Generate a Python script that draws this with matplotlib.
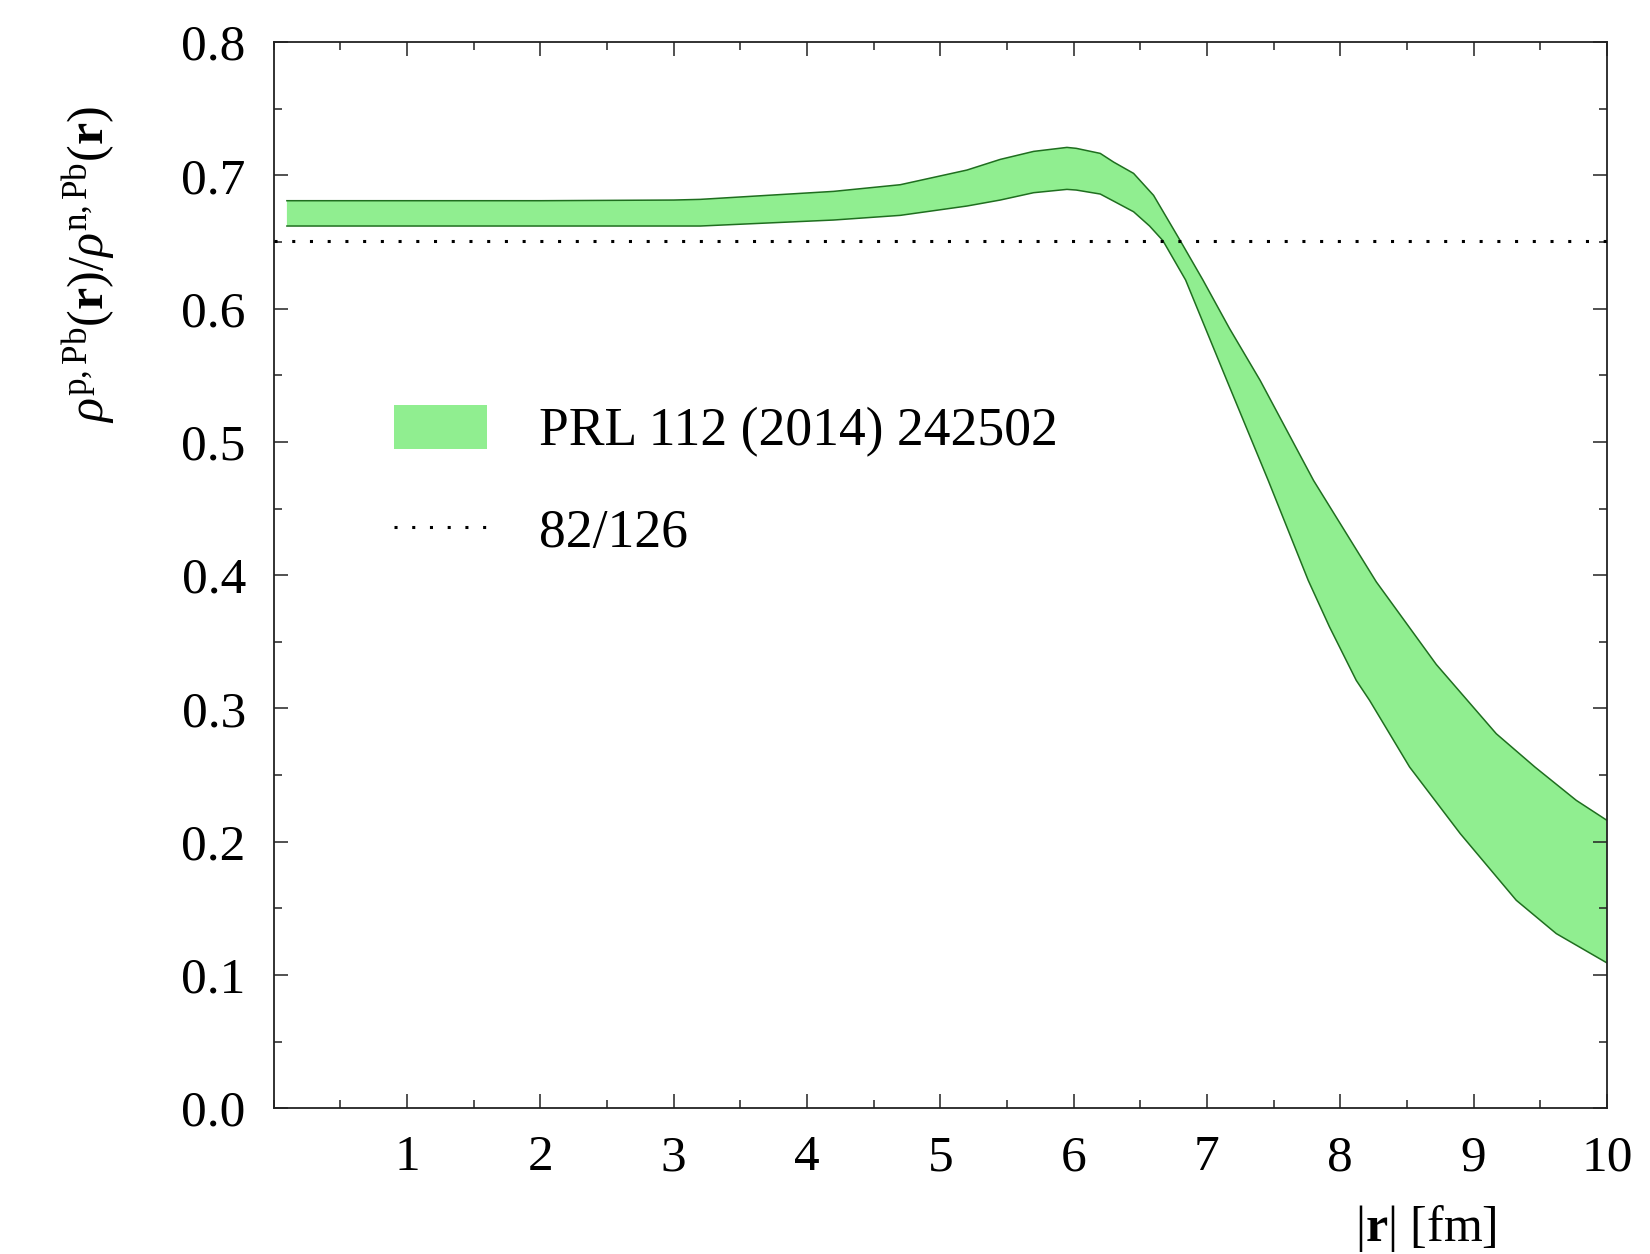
import numpy as np
import matplotlib
matplotlib.use("Agg")
import matplotlib.pyplot as plt
from matplotlib.patches import Patch
from matplotlib.lines import Line2D
from matplotlib.ticker import MultipleLocator, FormatStrFormatter

# ---- data ----
upper_r = [0.1, 1.0, 2.0, 3.0, 3.2, 4.2, 4.7, 5.2, 5.45, 5.7, 5.95, 6.02, 6.2, 6.3, 6.45,
           6.6, 6.8, 6.97, 7.17, 7.40, 7.80, 8.27, 8.72, 9.17, 9.46, 9.77, 10.0]
upper_ratio = [0.681, 0.681, 0.681, 0.6815, 0.682, 0.688, 0.693, 0.704, 0.712, 0.718, 0.721,
               0.7203, 0.7165, 0.710, 0.7015, 0.685, 0.651, 0.6215, 0.585, 0.546, 0.471,
               0.395, 0.333, 0.281, 0.256, 0.231, 0.216]
lower_r = [0.1, 1.0, 2.0, 3.0, 3.2, 4.2, 4.7, 5.2, 5.45, 5.7, 5.95, 6.02, 6.2, 6.3, 6.45,
           6.57, 6.67, 6.84, 7.15, 7.46, 7.76, 7.92, 8.12, 8.22, 8.52, 8.90, 9.32, 9.62,
           10.0]
lower_ratio = [0.662, 0.662, 0.662, 0.662, 0.662, 0.6665, 0.670, 0.677, 0.6815, 0.687, 0.6895,
               0.689, 0.686, 0.6807, 0.6727, 0.662, 0.651, 0.6215, 0.546, 0.471, 0.396,
               0.361, 0.321, 0.306, 0.256, 0.206, 0.156, 0.131, 0.109]
ref_ratio = 82 / 126
x_ticks = [1, 2, 3, 4, 5, 6, 7, 8, 9, 10]
y_ticks = [0.0, 0.1, 0.2, 0.3, 0.4, 0.5, 0.6, 0.7, 0.8]
band_label = "PRL 112 (2014) 242502"
ref_label = "82/126"

plt.rcParams.update({
    "font.family": ["Liberation Serif", "DejaVu Serif"],
    "mathtext.fontset": "custom",
    "mathtext.rm": "Liberation Serif",
    "mathtext.it": "Liberation Serif:italic",
    "mathtext.bf": "Liberation Serif:bold",
})

FILL = "#90ee90"
EDGE = "#1f6e1f"
DOT = (0, (1, 4.8))

fig = plt.figure(figsize=(16.5, 12.54), dpi=100)
ax = fig.add_axes([0.1658, 0.1163, 0.8081, 0.8501])

ur = np.array(upper_r); uy = np.array(upper_ratio)
lr = np.array(lower_r); ly = np.array(lower_ratio)
ax.fill(np.concatenate([ur, lr[::-1]]), np.concatenate([uy, ly[::-1]]),
        facecolor=FILL, edgecolor="none", zorder=1)
ax.plot(ur, uy, color=EDGE, lw=1.1, zorder=2, solid_joinstyle="round")
ax.plot(lr, ly, color=EDGE, lw=1.1, zorder=2, solid_joinstyle="round")
ax.axhline(ref_ratio, color="black", lw=2.2, ls=DOT, zorder=3)

ax.set_xlim(0, 10)
ax.set_ylim(0, 0.8)
ax.set_xticks(x_ticks)
ax.set_yticks(y_ticks)
ax.xaxis.set_minor_locator(MultipleLocator(0.5))
ax.yaxis.set_minor_locator(MultipleLocator(0.05))
ax.yaxis.set_major_formatter(FormatStrFormatter("%.1f"))
ax.tick_params(which="both", direction="in", top=True, right=True, width=1.1,
               color="#222222", labelsize=37)
ax.tick_params(which="major", length=10)
ax.tick_params(which="minor", length=6)
ax.tick_params(axis="x", which="major", pad=19)
ax.tick_params(axis="y", which="major", pad=20)
for s in ax.spines.values():
    s.set_linewidth(1.3)
    s.set_color("#222222")

fig.text(1426 / 1650, 1 - 1229 / 1254, r"|$\mathbf{r}$| [fm]", fontsize=36,
         ha="center", va="center")
fig.text(89 / 1650, 1 - 265 / 1254,
         r"$\rho^{\mathrm{p,Pb}}(\mathbf{r})/\rho^{\mathrm{n,Pb}}(\mathbf{r})$",
         fontsize=36, rotation=90, ha="center", va="center")

handles = [Patch(facecolor=FILL, edgecolor="none"),
           Line2D([], [], color="black", lw=2.2, ls=DOT)]
ax.legend(handles, [band_label, ref_label], loc="upper left",
          bbox_to_anchor=(393.6 / 1650, 1 - 405 / 1254), bbox_transform=fig.transFigure,
          frameon=False, fontsize=38.6, handlelength=1.74, handleheight=0.88,
          handletextpad=0.98, labelspacing=0.92, borderpad=0, borderaxespad=0)

fig.savefig("out.png", dpi=100)
